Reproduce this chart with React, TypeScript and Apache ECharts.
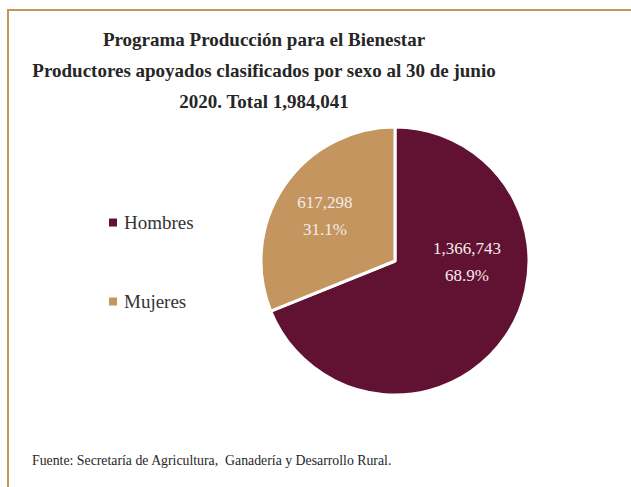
import React, { useEffect, useRef } from "react";
import * as echarts from "echarts";

const categories = ["Hombres", "Mujeres"];
const values = [1366743, 617298];
const percents = ["68.9%", "31.1%"];
const colors = ["#611232", "#C4955E"];
const titleLines = [
  "Programa Producción para el Bienestar",
  "Productores apoyados clasificados por sexo al 30 de junio",
  "2020. Total 1,984,041",
];
const sourceText = "Fuente: Secretaría de Agricultura,  Ganadería y Desarrollo Rural.";

const FONT = "'Liberation Serif', serif";

export default function App() {
  const ref = useRef<HTMLDivElement>(null);
  useEffect(() => {
    document.body.style.margin = "0";
    const chart = echarts.init(ref.current!, null, { renderer: "svg" });
    const labelOffsets = [
      [14, -38],
      [-12, -6],
    ];
    chart.setOption({
      animation: false,
      backgroundColor: "#ffffff",
      legend: {
        orient: "vertical",
        left: 102,
        top: 208,
        itemWidth: 10,
        itemHeight: 10,
        itemGap: 60,
        icon: "rect",
        data: categories,
        textStyle: { fontFamily: FONT, fontSize: 19, color: "#333333", padding: [0, 0, 0, 1] },
      },
      graphic: [
        {
          type: "rect",
          shape: { x: 8, y: 10, width: 700, height: 600 },
          style: { fill: "none", stroke: "#C4955E", lineWidth: 2 },
          silent: true,
        },
        {
          type: "text",
          x: 264,
          y: 24,
          style: {
            text: titleLines.join("\n"),
            fontFamily: FONT,
            fontWeight: "bold",
            fontSize: 19,
            lineHeight: 31,
            fill: "#262626",
            align: "center",
            verticalAlign: "top",
          },
        },
        {
          type: "text",
          x: 32,
          y: 460,
          style: {
            text: sourceText,
            fontFamily: FONT,
            fontSize: 13.8,
            fill: "#262626",
            align: "left",
            verticalAlign: "middle",
          },
        },
      ],
      series: [
        {
          type: "pie",
          center: [395, 261],
          radius: [0, 134],
          startAngle: 90,
          clockwise: true,
          itemStyle: { borderColor: "#ffffff", borderWidth: 3 },
          label: {
            show: true,
            position: "inside",
            fontFamily: FONT,
            fontSize: 17,
            lineHeight: 27,
            color: "#f3ecec",
            formatter: (p: any) =>
              values[p.dataIndex].toLocaleString("en-US") + "\n" + percents[p.dataIndex],
          },
          labelLine: { show: false },
          emphasis: { disabled: true },
          data: categories.map((c, i) => ({
            name: c,
            value: values[i],
            itemStyle: { color: colors[i] },
            label: { offset: labelOffsets[i] },
          })),
        },
      ],
    });
    return () => chart.dispose();
  }, []);
  return <div ref={ref} style={{ width: 631, height: 487 }} />;
}
